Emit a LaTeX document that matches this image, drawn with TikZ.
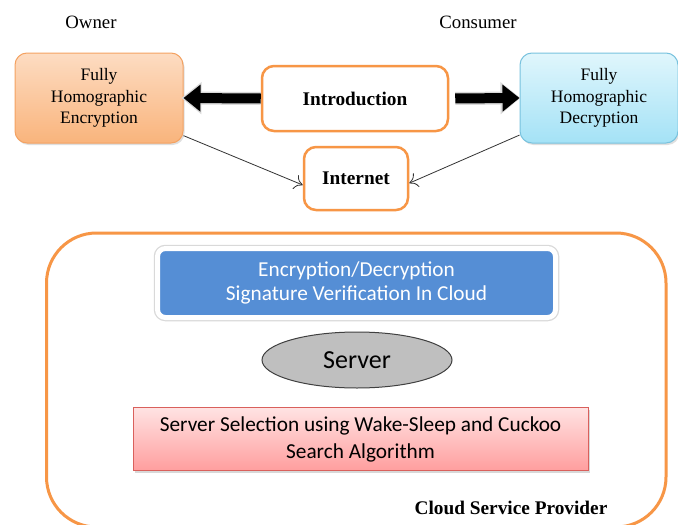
\documentclass[tikz,border=0pt]{standalone}
\usepackage{fontspec}
\setmainfont{Liberation Serif}
\newfontfamily\calfont{Carlito}
\usetikzlibrary{arrows.meta,shapes.geometric,shadows}
\definecolor{obord}{HTML}{F79646}
\definecolor{otop}{HTML}{FDDCC2}
\definecolor{obot}{HTML}{F9B47C}
\definecolor{oline}{HTML}{F4A262}
\definecolor{ctop}{HTML}{E0F6FC}
\definecolor{cbot}{HTML}{A4E2F6}
\definecolor{cline}{HTML}{78C2DE}
\definecolor{bluebox}{HTML}{558ED5}
\definecolor{ptop}{HTML}{FFE3E3}
\definecolor{pbot}{HTML}{FF9E9E}
\definecolor{pline}{HTML}{D9605C}
\definecolor{sgray}{HTML}{BFBFBF}
\begin{document}
\begin{tikzpicture}[x=1pt,y=-1pt,
  serif/.style={font=\fontsize{17.5}{21.5}\selectfont, align=center},
  sidebox/.style={serif, rounded corners=12pt, minimum height=90pt, line width=1pt,
    drop shadow={shadow xshift=1.5pt, shadow yshift=-2pt, opacity=0.25}},
  obox/.style={draw=obord, line width=2.5pt, fill=white, rounded corners=12pt,
    font=\bfseries\fontsize{19.3}{23}\selectfont},
  blockarrow/.style={line width=10pt, -{Triangle[length=17pt,width=26pt]}},
  blockhalo/.style={line width=13pt, gray!30, -{Triangle[length=20pt,width=31pt]}},
  thin/.style={draw=black!80, line width=0.8pt, -{To[length=8pt,width=15pt]}}
]
\useasboundingbox (0,0) rectangle (678,525);
\fill[white] (0,0) rectangle (678,525);

% headings
\node[font=\fontsize{18.8}{22}\selectfont] (owlbl) at (91,22) {Owner};
\node[font=\fontsize{18.8}{22}\selectfont] (colbl) at (478,22) {Consumer};

% top row
\node[sidebox, draw=oline, top color=otop, bottom color=obot,
  minimum width=168pt] (owner) at (99,98) {Fully\\Homographic\\Encryption};
\node[sidebox, draw=cline, top color=ctop, bottom color=cbot,
  minimum width=158pt] (consumer) at (599,98) {Fully\\Homographic\\Decryption};
\node[obox, minimum width=186pt, minimum height=65pt] (intro) at (355,98.5) {Introduction};
\node[obox, minimum width=104pt, minimum height=63pt] (internet) at (356,178.5) {Internet};

% block arrows
\draw[blockhalo] (intro.west) -- ([xshift=-2pt]owner.east);
\draw[blockarrow] (intro.west) -- (owner.east);
\draw[blockhalo, shorten <=6pt] (intro.east) -- ([xshift=1pt]consumer.west);
\draw[blockarrow, shorten <=6pt] (intro.east) -- (consumer.west);

% thin arrows
\draw[thin] (owner.-24) -- (internet.187);
\draw[thin] (consumer.205) -- (internet.-5);

% cloud service provider
\draw[obord, line width=3pt, rounded corners=50pt] (46.5,233) rectangle (666,527);
\node[font=\bfseries\fontsize{19.3}{23}\selectfont] (csp) at (511,508) {Cloud Service Provider};

\node[fill=bluebox, draw=white, line width=5pt, rounded corners=8pt,
  preaction={draw=gray!30, line width=7.5pt},
  minimum width=398pt, minimum height=69pt, text=white, align=center,
  font=\calfont\fontsize{21.3}{23.5}\selectfont,
  drop shadow={shadow xshift=1pt, shadow yshift=-2pt, opacity=0.35}] (enc) at (356.5,283)
  {Encryption/Decryption\\Signature Verification In Cloud};

\node[ellipse, fill=sgray, draw=black!75, line width=1pt, minimum width=190pt,
  minimum height=56pt, font=\calfont\fontsize{26}{30}\selectfont] (server) at (357,360) {Server};

\node[top color=ptop, bottom color=pbot, draw=pline, line width=1pt,
  minimum width=455pt, minimum height=63pt, align=center,
  font=\calfont\fontsize{21.3}{27}\selectfont,
  drop shadow={shadow xshift=1.5pt, shadow yshift=-2.5pt, opacity=0.3}] (sel) at (360.5,439)
  {Server Selection using Wake-Sleep and Cuckoo\\Search Algorithm};
\end{tikzpicture}
\end{document}
